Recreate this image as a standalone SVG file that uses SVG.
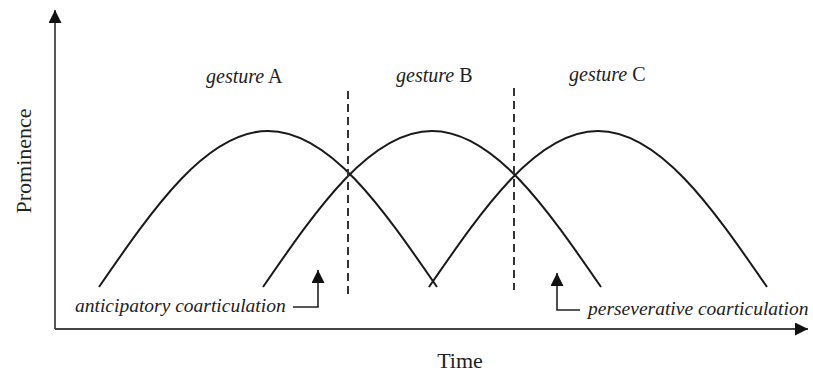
<svg xmlns="http://www.w3.org/2000/svg" width="813" height="372" viewBox="0 0 813 372">
<style>
.axis{stroke:#444;stroke-width:1.8;fill:none}
.curve{stroke:#1a1a1a;stroke-width:2;fill:none}
.dash{stroke:#333;stroke-width:2;stroke-dasharray:8,5;fill:none}
.lead{stroke:#222;stroke-width:1.6;fill:none}
.t{font-family:"Liberation Serif","Times New Roman",serif;fill:#222}
.it{font-style:italic}
</style>
<defs>
<marker id="ah" viewBox="0 0 10 10" refX="10" refY="5" markerWidth="13" markerHeight="13" markerUnits="userSpaceOnUse" orient="auto">
<path d="M0,0 L10,5 L0,10 Z" fill="#111"/>
</marker>
</defs>
<g id="axes">
<line class="axis" x1="55" y1="329" x2="55" y2="10" marker-end="url(#ah)"/>
<line class="axis" x1="55" y1="329" x2="808" y2="329" marker-end="url(#ah)"/>
<text class="t" font-size="22" transform="translate(31,161) rotate(-90)" text-anchor="middle">Prominence</text>
<text class="t" font-size="22" x="460" y="368" text-anchor="middle">Time</text>
</g>
<g id="gestureA">
<path class="curve" d="M99,287 C154.1,207.1 206.8,131 268,131 C329.2,131 381.9,207.1 437,287"/>
<text class="t" font-size="20" x="206" y="83"><tspan class="it">gesture</tspan> A</text>
</g>
<g id="gestureB">
<path class="curve" d="M263,287 C318.1,207.1 370.8,131 432,131 C493.2,131 545.9,207.1 601,287"/>
<text class="t" font-size="20" x="396" y="82"><tspan class="it">gesture</tspan> B</text>
</g>
<g id="gestureC">
<path class="curve" d="M429,287 C484.1,207.1 536.8,131 598,131 C659.2,131 711.9,207.1 767,287"/>
<text class="t" font-size="20" x="569" y="81"><tspan class="it">gesture</tspan> C</text>
</g>
<g id="boundaries">
<line class="dash" x1="348" y1="91" x2="348" y2="294"/>
<line class="dash" x1="514" y1="88" x2="514" y2="290"/>
</g>
<g id="anticipatory">
<text class="t it" font-size="19.5" x="75" y="312">anticipatory coarticulation</text>
<polyline class="lead" points="293,307 318,307 318,270" marker-end="url(#ah)"/>
</g>
<g id="perseverative">
<text class="t it" font-size="19.5" x="588" y="315">perseverative coarticulation</text>
<polyline class="lead" points="580,310 557,310 557,273" marker-end="url(#ah)"/>
</g>
</svg>
